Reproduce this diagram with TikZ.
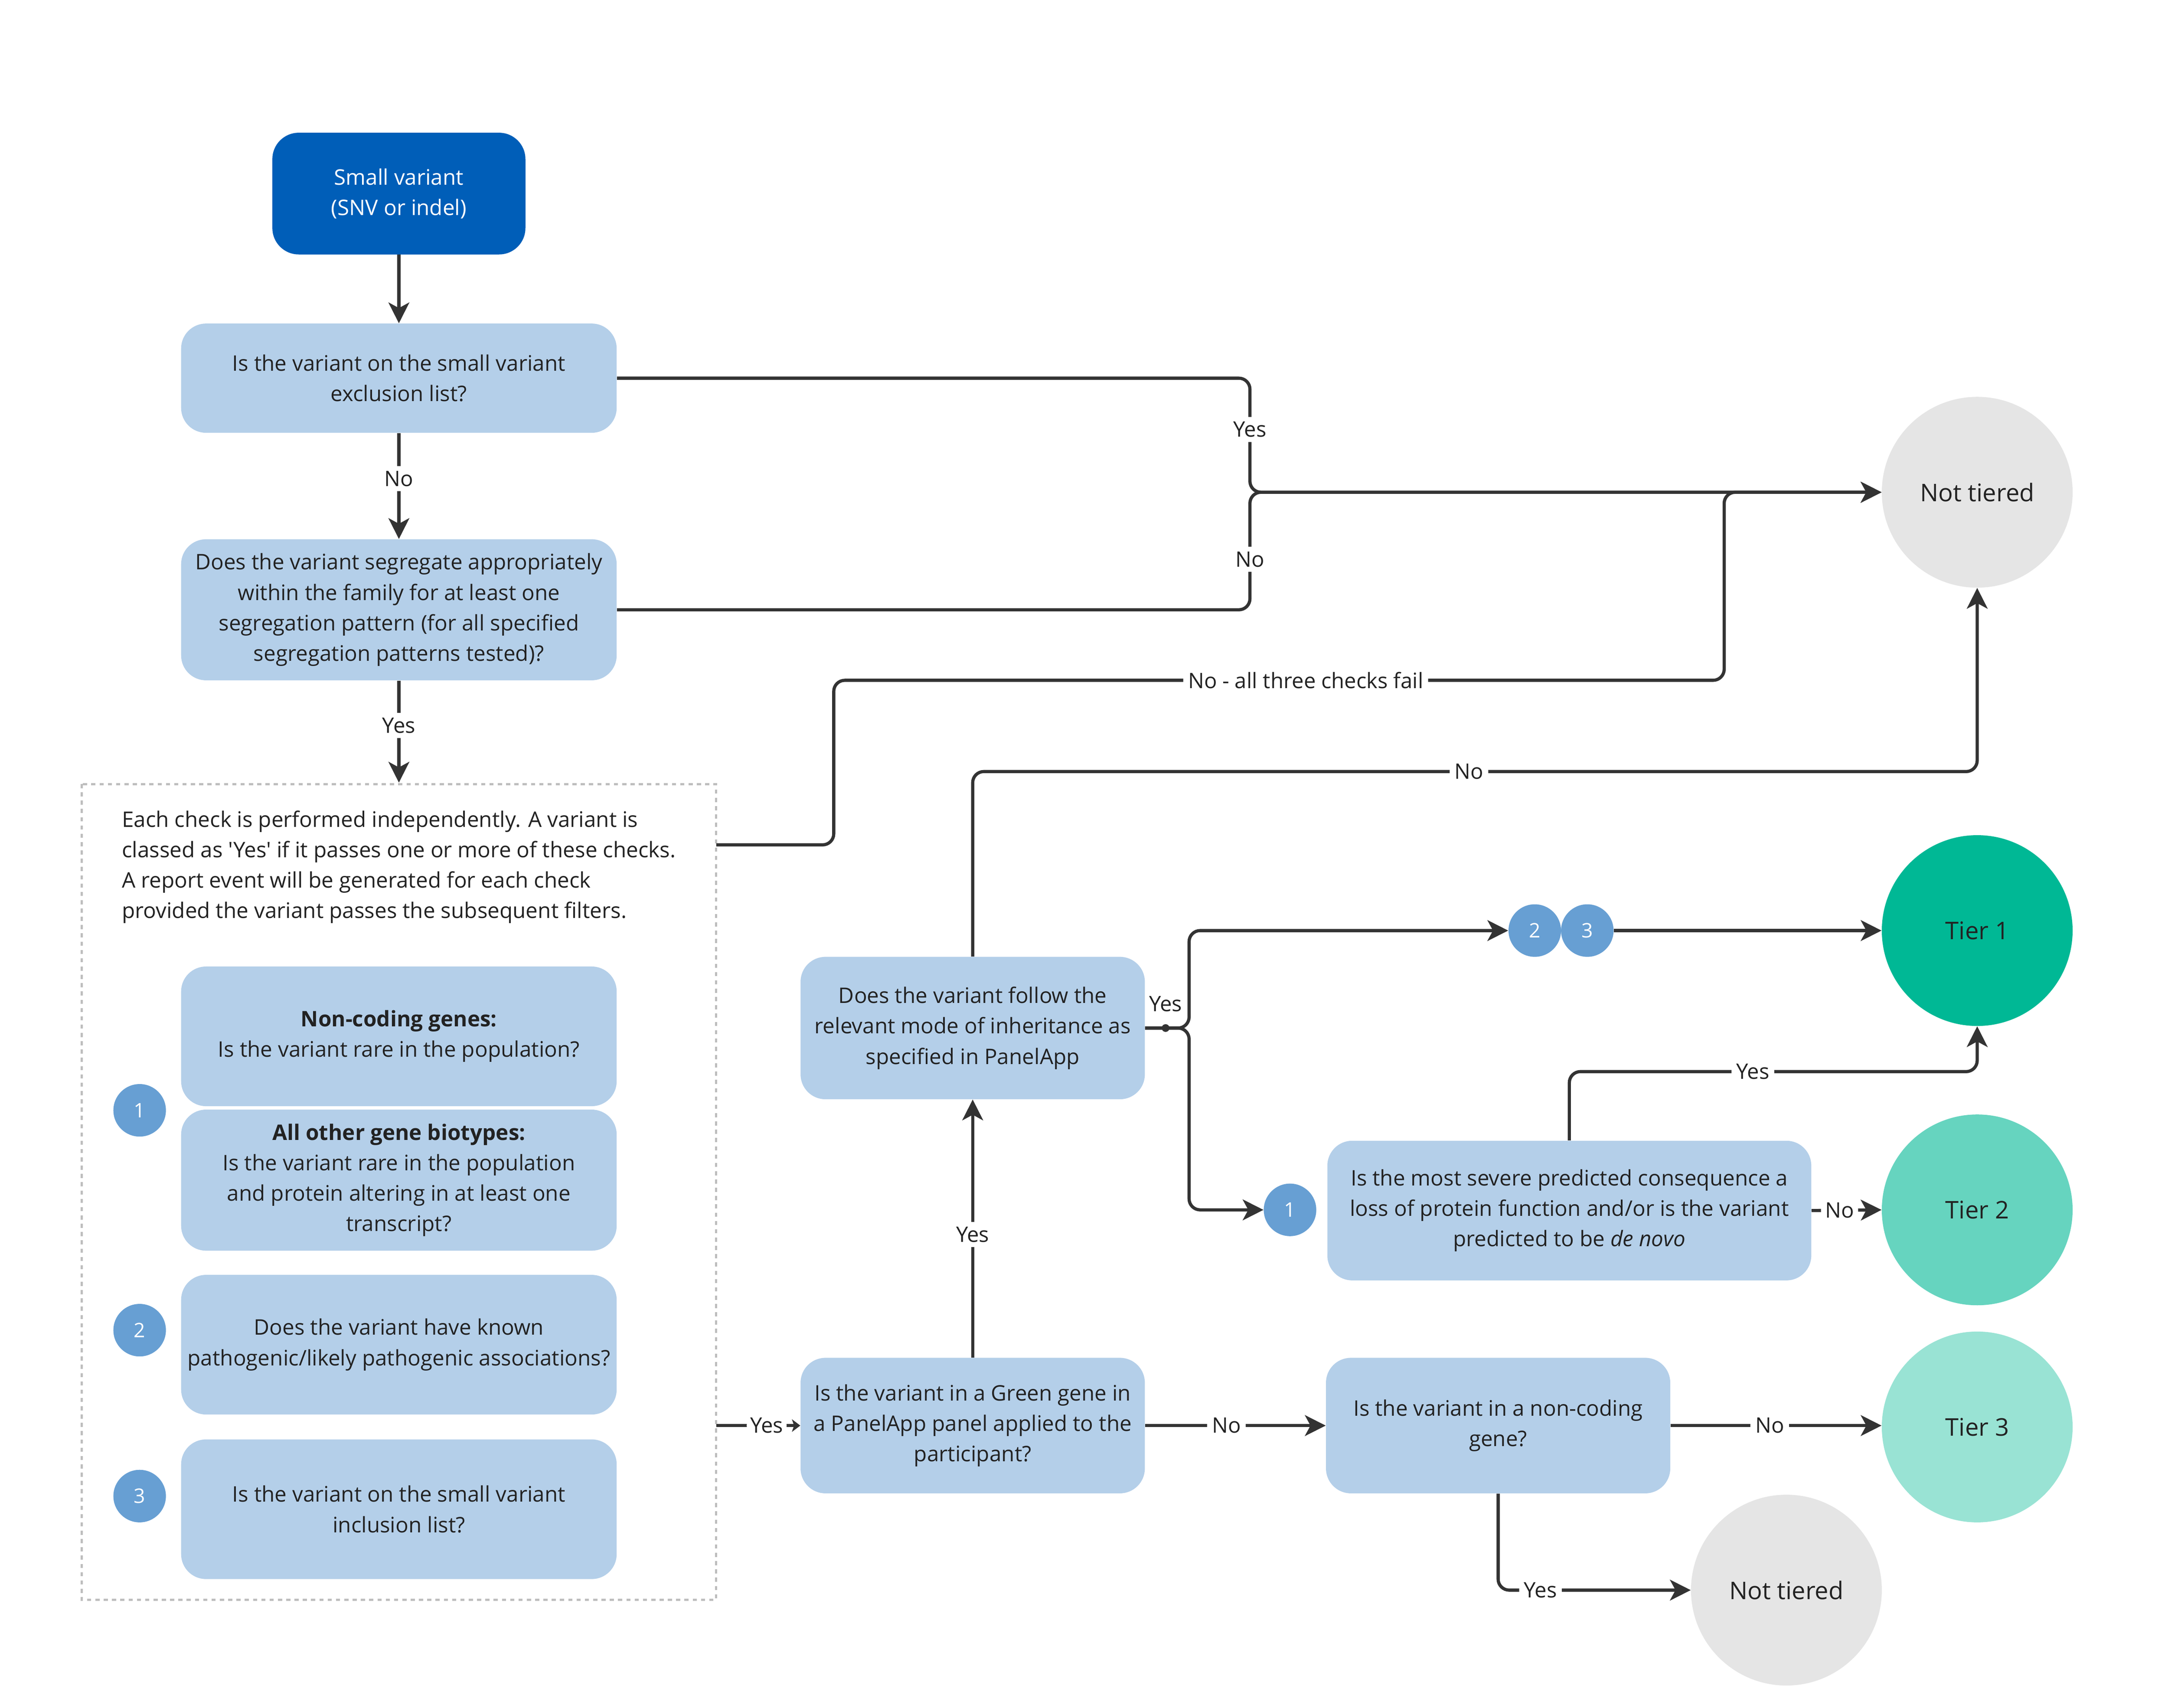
\documentclass[tikz,border=0pt]{standalone}
\usepackage{fontspec}
\setmainfont{Open Sans}[Ligatures=TeXOff]
\usetikzlibrary{arrows.meta,calc}
\definecolor{darkblue}{HTML}{005EB8}
\definecolor{qblue}{HTML}{B4CFE9}
\definecolor{numblue}{HTML}{679FD3}
\definecolor{tierone}{HTML}{00B895}
\definecolor{tiertwo}{HTML}{66D4BF}
\definecolor{tierthree}{HTML}{99E3D4}
\definecolor{notgray}{HTML}{E5E5E5}
\definecolor{linec}{HTML}{333333}
\definecolor{txt}{HTML}{222222}
\definecolor{dashc}{HTML}{BDBDBD}
\tikzset{
  qbox/.style={fill=qblue, rounded corners=18pt, align=center, inner sep=0pt, text=txt,
    font=\fontsize{15.5}{22}\selectfont},
  startbox/.style={fill=darkblue, rounded corners=19pt, align=center, inner sep=0pt, text=white,
    font=\fontsize{15.5}{22}\selectfont, minimum width=183pt, minimum height=88pt},
  bigc/.style={circle, minimum size=138pt, inner sep=0pt, text=txt, font=\fontsize{17.6}{20}\selectfont},
  numc/.style={circle, fill=numblue, minimum size=38pt, inner sep=0pt, text=white, font=\fontsize{14.5}{16}\selectfont},
  conn/.style={draw=linec, line width=2.3pt, rounded corners=8pt},
  arr/.style={-{Stealth[length=15pt, width=15pt, inset=4pt]}},
  lbl/.style={fill=white, inner sep=3.5pt, text=txt, font=\fontsize{15.4}{17}\selectfont},
}
\begin{document}
\begin{tikzpicture}[x=1pt,y=-1pt]
\useasboundingbox[fill=white] (0,0) rectangle (1568,1235);

% dashed container
\draw[dashc, line width=1.6pt, dash pattern=on 3pt off 3pt] (59,567) rectangle (518,1157);
\node[anchor=north west, align=left, inner sep=0pt, text=txt, font=\fontsize{15.5}{22}\selectfont] (intro) at (88,586)
 {Each check is performed independently. A variant is\\
  classed as 'Yes' if it passes one or more of these checks.\\
  A report event will be generated for each check\\
  provided the variant passes the subsequent filters.};

% nodes
\node[startbox] (start) at (288.5,140) {Small variant\\(SNV or indel)};
\node[qbox, minimum width=315pt, minimum height=79pt] (q1) at (288.5,273.5)
  {Is the variant on the small variant\\exclusion list?};
\node[qbox, minimum width=315pt, minimum height=102pt] (q2) at (288.5,441)
  {Does the variant segregate appropriately\\within the family for at least one\\segregation pattern (for all specified\\segregation patterns tested)?};
\node[qbox, minimum width=315pt, minimum height=101pt] (nc) at (288.5,749.5)
  {\textbf{Non-coding genes:}\\Is the variant rare in the population?};
\node[qbox, minimum width=315pt, minimum height=102pt] (ao) at (288.5,853.5)
  {\textbf{All other gene biotypes:}\\Is the variant rare in the population\\and protein altering in at least one\\transcript?};
\node[qbox, minimum width=315pt, minimum height=101pt] (b2) at (288.5,972.5)
  {Does the variant have known\\pathogenic/likely pathogenic associations?};
\node[qbox, minimum width=315pt, minimum height=101pt] (b3) at (288.5,1091.5)
  {Is the variant on the small variant\\inclusion list?};
\node[numc] (n1) at (101,803) {1};
\node[numc] (n2) at (101,962) {2};
\node[numc] (n3) at (101,1082) {3};

\node[qbox, minimum width=249pt, minimum height=103pt] (moi) at (703.5,743.5)
  {Does the variant follow the\\relevant mode of inheritance as\\specified in PanelApp};
\node[qbox, minimum width=249pt, minimum height=98pt] (green) at (703.5,1031)
  {Is the variant in a Green gene in\\a PanelApp panel applied to the\\participant?};
\node[qbox, minimum width=350pt, minimum height=101pt] (lof) at (1135,875.5)
  {Is the most severe predicted consequence a\\loss of protein function and/or is the variant\\predicted to be \textit{de novo}};
\node[qbox, minimum width=249pt, minimum height=98pt] (ncq) at (1083.5,1031)
  {Is the variant in a non-coding\\gene?};

\node[numc] (m2) at (1110,673) {2};
\node[numc] (m3) at (1148,673) {3};
\node[numc] (m1) at (933,875) {1};

\node[bigc, fill=notgray] (nt1) at (1430,356) {Not tiered};
\node[bigc, fill=tierone] (t1) at (1430,673) {Tier 1};
\node[bigc, fill=tiertwo] (t2) at (1430,875) {Tier 2};
\node[bigc, fill=tierthree] (t3) at (1430,1032) {Tier 3};
\node[bigc, fill=notgray] (nt2) at (1292,1150) {Not tiered};

% connectors
\draw[conn, arr] (start.south) -- (q1.north);
\draw[conn, arr] (q1.south) -- node[lbl, pos=0.43] (l1) {No} (q2.north);
\draw[conn, arr] (q2.south) -- node[lbl, pos=0.44] (l2) {Yes} (288.5,566);

\draw[conn, arr] (q1.east) -- (904,273.5) -- node[lbl, pos=0.45] (l3) {Yes} (904,356) -- (nt1.west);
\draw[conn, arr] (q2.east) -- (904,441) -- node[lbl, pos=0.43] (l4) {No} (904,356) -- (nt1.west);
\draw[conn, arr] (518,611) -- (603,611) -- (603,492) -- node[lbl, pos=0.53] (l5) {No - all three checks fail} (1247,492) -- (1247,356) -- (nt1.west);
\draw[conn, arr] (moi.north) -- (703.5,558) -- node[lbl, pos=0.494] (l6) {No} (1430,558) -- (nt1.south);

\draw[conn, arr] (green.north) -- node[lbl, pos=0.477] (l7) {Yes} (moi.south);
\draw[conn, -{Stealth[length=6pt, width=9pt, inset=1.5pt]}] (518,1031) -- node[lbl, pos=0.6, inner sep=2.5pt] (l8) {Yes} (green.west);

\draw[conn, arr] (moi.east) -- (860,743.5) -- (860,673) -- (m2.west);
\draw[conn, arr] (moi.east) -- (860,743.5) -- (860,875) -- (m1.west);
\fill[linec] (843,743.5) circle (2.8pt);
\node[lbl, fill=none] (l9) at (843,726) {Yes};
\draw[conn, arr] (m3.east) -- (t1.west);

\draw[conn, arr] (lof.north) -- (1135,775) -- node[lbl, pos=0.45] (l10) {Yes} (1430,775) -- (t1.south);
\draw[conn, arr] (lof.east) -- node[lbl, pos=0.4, inner sep=3pt] (l11) {No} (t2.west);

\draw[conn, arr] (green.east) -- node[lbl, pos=0.45] (l12) {No} (ncq.west);
\draw[conn, arr] (ncq.east) -- node[lbl, pos=0.47] (l13) {No} (ncq.east -| t3.west);
\draw[conn, arr] (ncq.south) -- (1083.5,1150) -- node[lbl, pos=0.22] (l14) {Yes} (nt2.west);
\end{tikzpicture}
\end{document}
